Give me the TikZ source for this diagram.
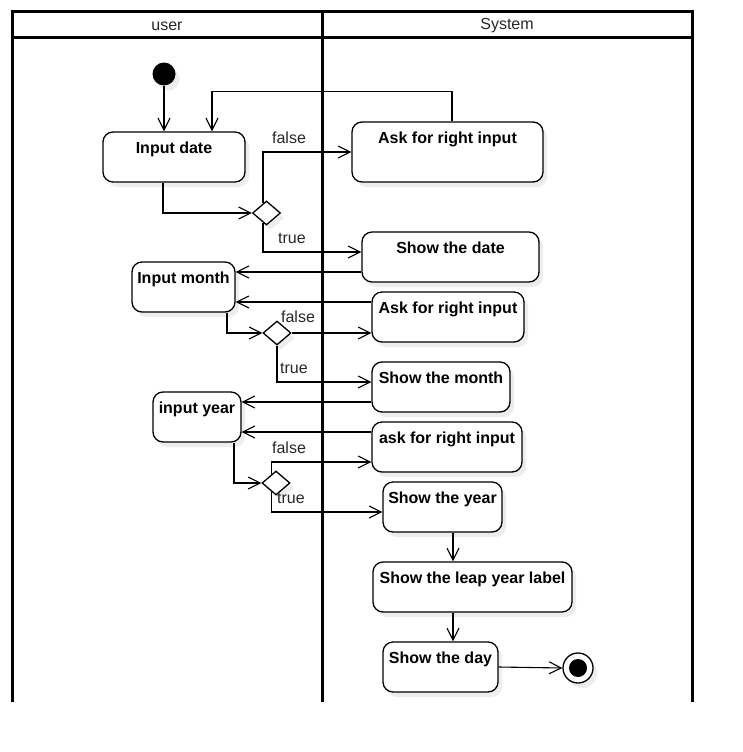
\documentclass[tikz,border=0pt]{standalone}
\usepackage{fontspec}
\setmainfont{Liberation Sans}
\usetikzlibrary{arrows.meta,shapes.geometric,shadows}

\begin{document}
\begin{tikzpicture}[x=1pt,y=-1pt,
  softshadow/.style={drop shadow={shadow xshift=4pt,shadow yshift=-5pt,fill=black!7,opacity=1}},
  act/.style={draw,rounded corners=10pt,fill=white,line width=1.3pt,softshadow,inner sep=0pt},
  dec/.style={diamond,draw,fill=white,line width=1.3pt,minimum width=28pt,minimum height=24pt,inner sep=0pt,softshadow},
  lane/.style={line width=3pt,line join=miter},
  flow/.style={line width=1.1pt,-{Straight Barb[length=12pt,width=12pt,line width=1.1pt]}},
  guard/.style={font=\fontsize{16}{19}\selectfont,text=black!85,inner sep=0pt},
  lanetitle/.style={font=\fontsize{16}{19}\selectfont,text=black!85,inner sep=0pt},
  acttext/.style={font=\fontsize{16}{19}\selectfont\bfseries,anchor=base,inner sep=0pt},
]
\useasboundingbox (0,0) rectangle (742,752);

% swimlanes
\draw[lane] (12,702) -- (12,12) -- (692,12) -- (692,702);
\draw[lane] (12,38) -- (692,38);
\draw[lane] (322,12) -- (322,702);
\node[lanetitle] (usertitle) at (167,26) {user};
\node[lanetitle] (systitle) at (507,26) {System};

% initial and final states
\node[circle,fill=black,minimum size=23pt,inner sep=0pt,softshadow] (start) at (164,74) {};
\node[circle,draw,line width=1.3pt,fill=white,minimum size=30pt,inner sep=0pt,softshadow] (stop) at (578,668) {};
\fill (stop.center) circle (9pt);

% activities
\node[act,minimum width=142pt,minimum height=50pt] (date) at (174,157) {};
\node[acttext] (date-t) at ([yshift=-22pt]date.north) {Input date};

\node[act,minimum width=191pt,minimum height=60pt] (ask1) at (447.5,152) {};
\node[acttext] (ask1-t) at ([yshift=-22pt]ask1.north) {Ask for right input};

\node[act,minimum width=177pt,minimum height=50pt] (showdate) at (450.5,257) {};
\node[acttext] (showdate-t) at ([yshift=-22pt]showdate.north) {Show the date};

\node[act,minimum width=103pt,minimum height=50pt] (month) at (183.5,287) {};
\node[acttext] (month-t) at ([yshift=-22pt]month.north) {Input month};

\node[act,minimum width=152pt,minimum height=50pt] (ask2) at (448,317) {};
\node[acttext] (ask2-t) at ([yshift=-22pt]ask2.north) {Ask for right input};

\node[act,minimum width=138pt,minimum height=50pt] (showmonth) at (441,387) {};
\node[acttext] (showmonth-t) at ([yshift=-22pt]showmonth.north) {Show the month};

\node[act,minimum width=88pt,minimum height=50pt] (year) at (197,417) {};
\node[acttext] (year-t) at ([yshift=-22pt]year.north) {input year};

\node[act,minimum width=150pt,minimum height=50pt] (ask3) at (447,447) {};
\node[acttext] (ask3-t) at ([yshift=-22pt]ask3.north) {ask for right input};

\node[act,minimum width=119pt,minimum height=50pt] (showyear) at (442.5,507) {};
\node[acttext] (showyear-t) at ([yshift=-22pt]showyear.north) {Show the year};

\node[act,minimum width=199pt,minimum height=50pt] (leap) at (472.5,587) {};
\node[acttext] (leap-t) at ([yshift=-22pt]leap.north) {Show the leap year label};

\node[act,minimum width=115pt,minimum height=50pt] (day) at (440.5,667) {};
\node[acttext] (day-t) at ([yshift=-22pt]day.north) {Show the day};

% decisions
\node[dec] (d1) at (266.5,213) {};
\node[dec] (d2) at (277,333) {};
\node[dec] (d3) at (276,483) {};

% control flow
\draw[flow] (start) -- (start |- date.north);
\draw[flow] ([xshift=4.5pt]ask1.north) -- ++(0,-30) -| ([xshift=38pt]date.north);
\draw[flow] ([xshift=-11pt]date.south) |- (d1.west);
\draw[flow] (d1.110) |- (ask1.west);
\node[guard] (g1f) at (289,138) {false};
\draw[flow] (d1.250) |- ([yshift=5pt]showdate.west);
\node[guard] (g1t) at (292,238) {true};

\draw[flow] ([yshift=-15pt]showdate.west) -- ([yshift=-15pt]showdate.west -| month.east);
\draw[flow] ([yshift=15pt]ask2.west) -- ([yshift=15pt]ask2.west -| month.east);
\draw[flow] ([xshift=43.5pt]month.south) |- (d2.west);
\draw[flow] (d2.east) -- (d2.east -| ask2.west);
\node[guard] (g2f) at (298,317) {false};
\draw[flow] (d2.south) |- ([yshift=5pt]showmonth.west);
\node[guard] (g2t) at (294,368) {true};

\draw[flow] ([yshift=-15pt]showmonth.west) -- ([yshift=-15pt]showmonth.west -| year.east);
\draw[flow] ([yshift=15pt]ask3.west) -- ([yshift=15pt]ask3.west -| year.east);
\draw[flow] ([xshift=37pt]year.south) |- (d3.west);
\draw[flow] (d3.115) |- ([yshift=-15pt]ask3.west);
\node[guard] (g3f) at (289,448) {false};
\draw[flow] (d3.245) |- ([yshift=-5pt]showyear.west);
\node[guard] (g3t) at (291,498) {true};

\draw[flow] ([xshift=10.5pt]showyear.south) -- ([xshift=10.5pt]showyear.south |- leap.north);
\draw[flow] ([xshift=-19.5pt]leap.south) -- ([xshift=-19.5pt]leap.south |- day.north);
\draw[flow] (day.east) -- (stop.west);
\end{tikzpicture}
\end{document}
